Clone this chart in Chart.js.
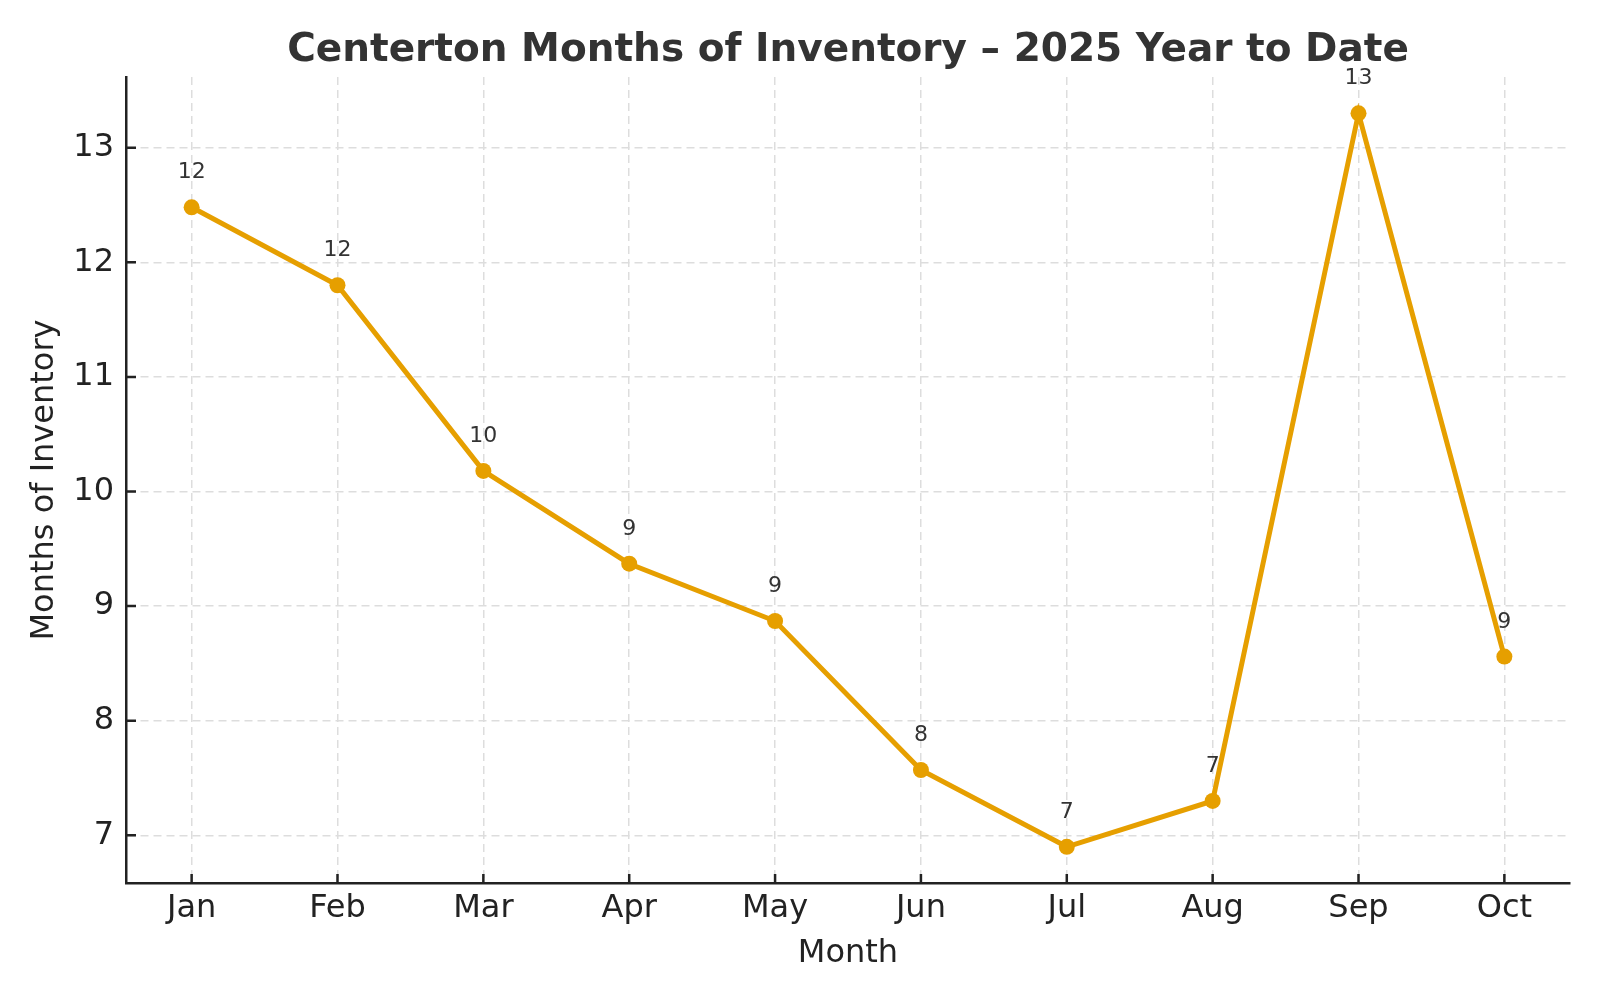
<!DOCTYPE html>
<html>
<head>
<meta charset="utf-8">
<script src="https://cdn.jsdelivr.net/npm/chart.js@4"></script>
<style>
  html, body { margin: 0; padding: 0; background: #fff; }
  #wrap { width: 1600px; height: 1000px; position: relative; }
</style>
</head>
<body>
<div id="wrap"><canvas id="moiChart"></canvas></div>
<script>
// data
const months = ['Jan', 'Feb', 'Mar', 'Apr', 'May', 'Jun', 'Jul', 'Aug', 'Sep', 'Oct'];
const inventory = [12.48, 11.80, 10.18, 9.37, 8.87, 7.57, 6.90, 7.30, 13.30, 8.56];
const pointLabels = ['12', '12', '10', '9', '9', '8', '7', '7', '13', '9'];
const yTicks = [7, 8, 9, 10, 11, 12, 13];
const chartTitle = 'Centerton Months of Inventory \u2013 2025 Year to Date';

const LINE_COLOR = '#E69F00';
const AXIS_COLOR = '#222222';
const FONT = '"DejaVu Sans", sans-serif';

// title centred over the plot area (matplotlib style), not the whole canvas
const plotTitle = {
    id: 'plotTitle',
    afterDraw(chart) {
        const ctx = chart.ctx;
        const area = chart.chartArea;
        ctx.save();
        ctx.font = 'bold 39px ' + FONT;
        ctx.fillStyle = '#333333';
        ctx.textAlign = 'center';
        ctx.textBaseline = 'alphabetic';
        ctx.fillText(chartTitle, (area.left + area.right) / 2, 61);
        ctx.restore();
    }
};

// value labels above each point, drawn under the line
const valueLabels = {
    id: 'valueLabels',
    beforeDatasetsDraw(chart) {
        const ctx = chart.ctx;
        const meta = chart.getDatasetMeta(0);
        ctx.save();
        ctx.font = '22px ' + FONT;
        ctx.fillStyle = '#333333';
        ctx.textAlign = 'center';
        ctx.textBaseline = 'alphabetic';
        meta.data.forEach((pt, i) => {
            ctx.fillText(pointLabels[i], pt.x, pt.y - 29);
        });
        ctx.restore();
    }
};

// matplotlib style inward tick marks
const innerTicks = {
    id: 'innerTicks',
    afterDraw(chart) {
        const ctx = chart.ctx;
        const area = chart.chartArea;
        const xs = chart.scales.x, ys = chart.scales.y;
        ctx.save();
        ctx.strokeStyle = AXIS_COLOR;
        ctx.lineWidth = 2.5;
        ctx.beginPath();
        xs.ticks.forEach(t => {
            const px = xs.getPixelForValue(t.value);
            ctx.moveTo(px, area.bottom);
            ctx.lineTo(px, area.bottom - 9);
        });
        ys.ticks.forEach(t => {
            const py = ys.getPixelForValue(t.value);
            ctx.moveTo(area.left, py);
            ctx.lineTo(area.left + 10, py);
        });
        ctx.stroke();
        ctx.restore();
    }
};

new Chart(document.getElementById('moiChart'), {
    type: 'line',
    data: {
        datasets: [{
            label: 'Months of Inventory',
            data: inventory.map((v, i) => ({ x: i, y: v })),
            borderColor: LINE_COLOR,
            backgroundColor: LINE_COLOR,
            borderWidth: 5,
            pointRadius: 8,
            pointHoverRadius: 8,
            pointBorderWidth: 0,
            tension: 0
        }]
    },
    options: {
        responsive: true,
        maintainAspectRatio: false,
        animation: false,
        layout: { padding: { left: 0, right: 30, top: 77, bottom: 0 } },
        plugins: {
            legend: { display: false },
            tooltip: { enabled: false },
            title: { display: false }
        },
        scales: {
            x: {
                type: 'linear',
                min: -0.45,
                max: 9.45,
                afterBuildTicks: s => { s.ticks = months.map((m, i) => ({ value: i })); },
                afterFit: s => { s.height = 117; },
                ticks: {
                    autoSkip: false,
                    maxRotation: 0,
                    padding: 6,
                    color: AXIS_COLOR,
                    font: { family: FONT, size: 32 },
                    callback: v => months[v]
                },
                grid: { color: '#dddddd', lineWidth: 1.5, drawTicks: false },
                border: { display: true, color: AXIS_COLOR, width: 2.5, dash: [8, 5] },
                title: {
                    display: true,
                    text: 'Month',
                    color: AXIS_COLOR,
                    font: { family: FONT, size: 32 },
                    padding: { top: 0, bottom: 27 }
                }
            },
            y: {
                min: 6.584,
                max: 13.617,
                afterBuildTicks: s => { s.ticks = yTicks.map(v => ({ value: v })); },
                afterFit: s => { s.width = 126; },
                ticks: {
                    padding: 12,
                    color: AXIS_COLOR,
                    font: { family: FONT, size: 32 }
                },
                grid: { color: '#dddddd', lineWidth: 1.5, drawTicks: false },
                border: { display: true, color: AXIS_COLOR, width: 2.5, dash: [8, 5] },
                title: {
                    display: true,
                    text: 'Months of Inventory',
                    color: AXIS_COLOR,
                    font: { family: FONT, size: 32 },
                    padding: { top: 25, bottom: 0 }
                }
            }
        }
    },
    plugins: [plotTitle, valueLabels, innerTicks]
});
</script>
</body>
</html>
